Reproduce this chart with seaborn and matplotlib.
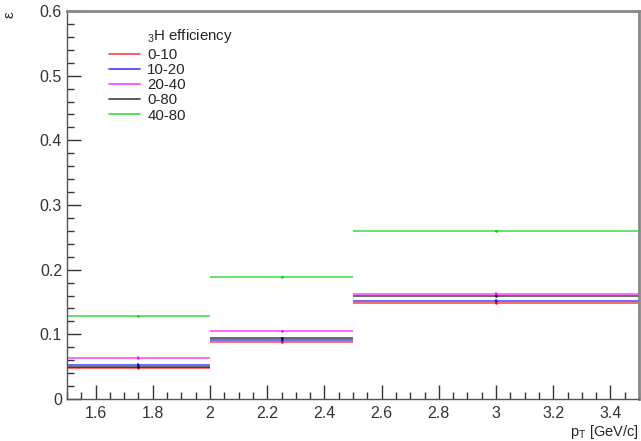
import matplotlib
matplotlib.use("Agg")
import matplotlib.pyplot as plt
from matplotlib.ticker import MultipleLocator
from matplotlib.lines import Line2D
import seaborn as sns
import pandas as pd

# ── Data ──────────────────────────────────────────────────────────────────────
bin_lo = [1.5, 2.0, 2.5]
bin_hi = [2.0, 2.5, 3.5]
centrality = ["0-10", "10-20", "20-40", "0-80", "40-80"]
eff_0_10 = [0.048, 0.0886, 0.1485]
eff_10_20 = [0.053, 0.092, 0.152]
eff_20_40 = [0.064, 0.105, 0.163]
eff_0_80 = [0.049, 0.095, 0.160]
eff_40_80 = [0.128, 0.189, 0.260]
err_0_10 = [0.002, 0.002, 0.002]
err_10_20 = [0.002, 0.002, 0.002]
err_20_40 = [0.002, 0.002, 0.002]
err_0_80 = [0.001, 0.001, 0.001]
err_40_80 = [0.001, 0.001, 0.001]

colors = ["#ff0000", "#0000ff", "#ff00ff", "#000000", "#00cc00"]

rows = []
for name, vals, errs in zip(centrality,
                            [eff_0_10, eff_10_20, eff_20_40, eff_0_80, eff_40_80],
                            [err_0_10, err_10_20, err_20_40, err_0_80, err_40_80]):
    for lo, hi, v, e in zip(bin_lo, bin_hi, vals, errs):
        rows.append({"cent": name, "x": (lo + hi) / 2, "xerr": (hi - lo) / 2, "eff": v, "err": e})
df = pd.DataFrame(rows)

# ── Plot ──────────────────────────────────────────────────────────────────────
sns.set_style("white")
plt.rcParams["font.family"] = ["Liberation Sans", "DejaVu Sans"]

fig = plt.figure(figsize=(6.41, 4.41), dpi=100)
ax = fig.add_axes([0.1045, 0.0952, 0.8925, 0.8798])

for name, col in zip(centrality, colors):
    sub = df[df["cent"] == name]
    ax.errorbar(sub["x"], sub["eff"], xerr=sub["xerr"], yerr=sub["err"],
                fmt="none", ecolor=col, elinewidth=1.1, alpha=0.75)
    sns.scatterplot(data=sub, x="x", y="eff", ax=ax, color=col, s=3,
                    linewidth=0, legend=False)

ax.set_xlim(1.5, 3.5)
ax.set_ylim(0, 0.6)
ax.xaxis.set_minor_locator(MultipleLocator(0.05))
ax.yaxis.set_minor_locator(MultipleLocator(0.02))
ax.set_xticks([1.6, 1.8, 2.0, 2.2, 2.4, 2.6, 2.8, 3.0, 3.2, 3.4])
ax.set_xticklabels(["1.6", "1.8", "2", "2.2", "2.4", "2.6", "2.8", "3", "3.2", "3.4"])
ax.set_yticks([0, 0.1, 0.2, 0.3, 0.4, 0.5, 0.6])
ax.set_yticklabels(["0", "0.1", "0.2", "0.3", "0.4", "0.5", "0.6"])
ax.tick_params(which="both", direction="in", top=False, right=False,
               labelsize=11.5, colors="#333333", bottom=True, left=True)
ax.tick_params(which="major", length=10, width=1)
ax.tick_params(which="minor", length=5, width=1)
ax.tick_params(axis="x", pad=5)
for s in ax.spines.values():
    s.set_color("#555555")
    s.set_linewidth(1)
for side in ["top", "right"]:
    ax.spines[side].set_color("#888888")
    ax.spines[side].set_linewidth(2)

ax.set_xlabel("")
ax.set_ylabel("")
fig.text(0.997, 0.0, r"p$_{\mathregular{T}}$ [GeV/c]", ha="right", va="bottom", fontsize=10.5)
fig.text(0.004, 0.975, "ε", rotation=90, ha="left", va="top", fontsize=11)

handles = [Line2D([0], [0], color=c, lw=1.2, alpha=0.75) for c in colors]
leg = ax.legend(handles, centrality, loc="upper left", bbox_to_anchor=(0.0734, 0.905),
                frameon=False, fontsize=10.8, handlelength=2.1, handletextpad=0.45,
                labelspacing=0.08, borderaxespad=0, borderpad=0)
ax.text(0.1399, 0.936, r"$_{\mathregular{3}}$H efficiency", transform=ax.transAxes,
        ha="left", va="center", fontsize=10.8)

fig.savefig("out.png", dpi=100)
